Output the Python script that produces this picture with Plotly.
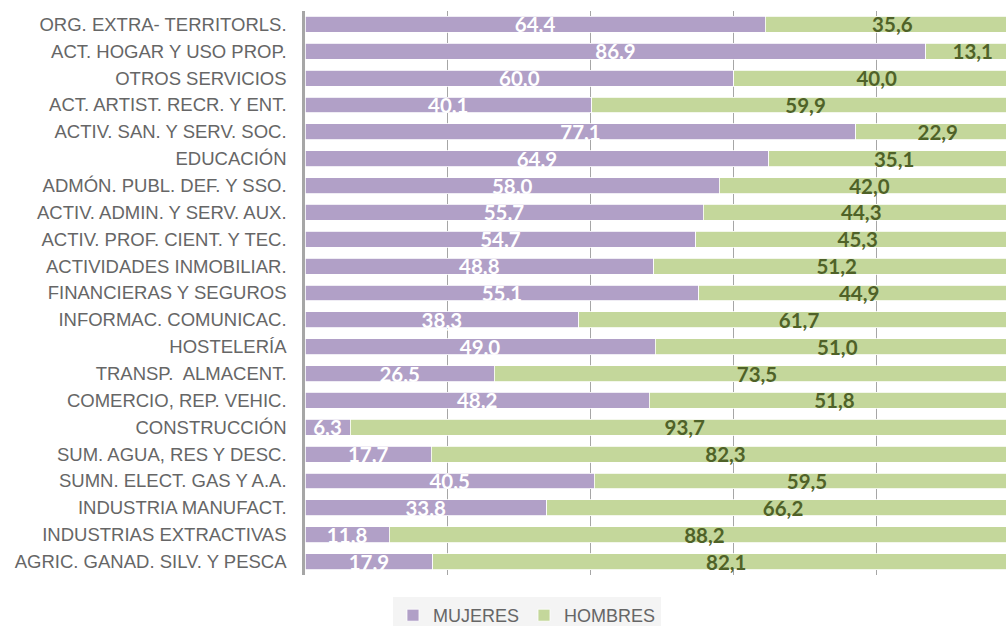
import plotly.graph_objects as go

# Sectors, listed top to bottom as they appear on the chart
sectores = [
    "ORG. EXTRA- TERRITORLS.",
    "ACT. HOGAR Y USO PROP.",
    "OTROS SERVICIOS",
    "ACT. ARTIST. RECR. Y ENT.",
    "ACTIV. SAN. Y SERV. SOC.",
    "EDUCACIÓN",
    "ADMÓN. PUBL. DEF. Y SSO.",
    "ACTIV. ADMIN. Y SERV. AUX.",
    "ACTIV. PROF. CIENT. Y TEC.",
    "ACTIVIDADES INMOBILIAR.",
    "FINANCIERAS Y SEGUROS",
    "INFORMAC. COMUNICAC.",
    "HOSTELERÍA",
    "TRANSP.  ALMACENT.",
    "COMERCIO, REP. VEHIC.",
    "CONSTRUCCIÓN",
    "SUM. AGUA, RES Y DESC.",
    "SUMN. ELECT. GAS Y A.A.",
    "INDUSTRIA MANUFACT.",
    "INDUSTRIAS EXTRACTIVAS",
    "AGRIC. GANAD. SILV. Y PESCA",
]

# Share of employment (%) by sex
mujeres = [64.4, 86.9, 60.0, 40.1, 77.1, 64.9, 58.0, 55.7, 54.7, 48.8, 55.1,
           38.3, 49.0, 26.5, 48.2, 6.3, 17.7, 40.5, 33.8, 11.8, 17.9]
hombres = [35.6, 13.1, 40.0, 59.9, 22.9, 35.1, 42.0, 44.3, 45.3, 51.2, 44.9,
           61.7, 51.0, 73.5, 51.8, 93.7, 82.3, 59.5, 66.2, 88.2, 82.1]

COLOR_M = "#b1a0c7"
COLOR_H = "#c4d79b"
LABEL_FONT = "Lato, 'Open Sans', sans-serif"
AXIS_FONT = "'Liberation Sans', Arial, sans-serif"

fig = go.Figure()
fig.add_trace(go.Bar(
    name="MUJERES", y=sectores, x=mujeres, orientation="h",
    marker=dict(color=COLOR_M, line=dict(color="white", width=0.8)),
    texttemplate="%{x:.1f}", textposition="inside", insidetextanchor="middle",
    constraintext="none",
    textfont=dict(family=LABEL_FONT, size=20.5, color="white", weight="bold"),
    hoverinfo="skip",
))
fig.add_trace(go.Bar(
    name="HOMBRES", y=sectores, x=hombres, orientation="h",
    marker=dict(color=COLOR_H, line=dict(color="white", width=0.8)),
    texttemplate="%{x:.1f}", textposition="inside", insidetextanchor="middle",
    constraintext="none",
    textfont=dict(family=LABEL_FONT, size=20.5, color="#4f6228", weight="bold"),
    hoverinfo="skip",
))

fig.update_layout(
    width=1006, height=626,
    margin=dict(l=305, r=0, t=11, b=51, autoexpand=False),
    barmode="stack", bargap=0.405,
    separators=",.",
    paper_bgcolor="white", plot_bgcolor="white",
    showlegend=True,
    legend=dict(
        orientation="h", x=0.1255, xanchor="left", y=-0.039, yanchor="top",
        bgcolor="#f4f4f4", itemwidth=30,
        font=dict(family=AXIS_FONT, size=18, color="#666666"),
        traceorder="normal",
    ),
    xaxis=dict(
        range=[0, 98.1], dtick=20, tick0=0,
        showgrid=True, gridcolor="#a6a6a6", gridwidth=1,
        showticklabels=False, zeroline=False, showline=False, ticks="",
        fixedrange=True,
    ),
    yaxis=dict(
        categoryorder="array", categoryarray=sectores, autorange="reversed",
        showline=True, linecolor="#a6a6a6", linewidth=2.5,
        showgrid=False, ticks="", ticklabelstandoff=12,
        tickfont=dict(family=AXIS_FONT, size=18.5, color="#666666"),
        fixedrange=True,
    ),
)

fig.write_html("out.html")
